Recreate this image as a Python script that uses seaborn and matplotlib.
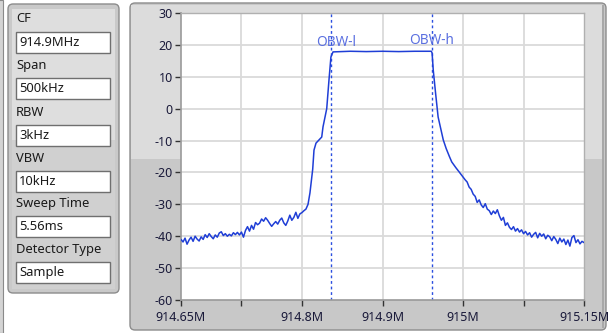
import matplotlib
matplotlib.use("Agg")
import matplotlib.pyplot as plt
from matplotlib.patches import FancyBboxPatch, Rectangle
import seaborn as sns
import pandas as pd

# ---------------- data ----------------
freq_mhz = [
    914.650, 914.6525, 914.655, 914.6575, 914.660, 914.6625, 914.665, 914.6675, 914.670, 914.6725,
    914.675, 914.6775, 914.680, 914.6825, 914.685, 914.6875, 914.690, 914.6925, 914.695, 914.6975,
    914.700, 914.7025, 914.705, 914.7075, 914.710, 914.7125, 914.715, 914.7175, 914.720, 914.7225,
    914.725, 914.7275, 914.730, 914.7325, 914.735, 914.7375, 914.740, 914.7425, 914.745, 914.7475,
    914.750, 914.7525, 914.755, 914.7575, 914.760, 914.7625, 914.765, 914.7675, 914.770, 914.7725,
    914.775, 914.7775, 914.780, 914.7825, 914.785, 914.7875, 914.790, 914.7925, 914.795, 914.7975,
    914.800, 914.8025, 914.805, 914.8076, 914.810, 914.8134, 914.815, 914.8175, 914.8246, 914.8262,
    914.8308, 914.8336, 914.836, 914.8386,
    914.860, 914.880, 914.900, 914.920, 914.940, 914.9605,
    914.9615, 914.963, 914.966, 914.969, 914.9725, 914.9754, 914.979, 914.983, 914.9859, 914.991, 914.995,
    915.000, 915.0025, 915.005, 915.0075, 915.010, 915.0125, 915.015, 915.0175, 915.020, 915.0225,
    915.025, 915.0275, 915.030, 915.0325, 915.035, 915.0375, 915.040, 915.0425, 915.045, 915.0475,
    915.050, 915.0525, 915.055, 915.0575, 915.060, 915.0625, 915.065, 915.0675, 915.070, 915.0725,
    915.075, 915.0775, 915.080, 915.0825, 915.085, 915.0875, 915.090, 915.0925, 915.095, 915.0975,
    915.100, 915.1025, 915.105, 915.1075, 915.110, 915.1125, 915.115, 915.1175, 915.120, 915.1225,
    915.125, 915.1275, 915.130, 915.1325, 915.135, 915.1375, 915.140, 915.1425, 915.145, 915.1475,
    915.150,
]
level_db = [
    -41.0, -41.8, -40.6, -42.5, -41.2, -40.3, -41.6, -40.0, -40.9, -41.5,
    -40.2, -41.0, -39.5, -40.4, -39.2, -40.1, -40.8, -39.6, -40.3, -39.0,
    -38.6, -39.8, -39.2, -40.0, -39.4, -39.9, -38.9, -39.5, -38.8, -39.6,
    -38.7, -40.3, -38.2, -37.0, -38.4, -36.6, -37.8, -35.7, -36.4, -35.9,
    -34.6, -35.3, -34.2, -35.0, -36.0, -36.9, -36.1, -35.4, -36.2, -35.0,
    -34.3, -35.8, -36.6, -35.2, -33.4, -35.0, -34.1, -32.5, -34.4, -33.0,
    -32.6, -32.0, -31.5, -30.0, -26.4, -19.0, -13.0, -10.8, -8.9, -5.7,
    0.0, 9.0, 16.2, 17.8,
    18.0, 17.9, 18.0, 17.9, 18.0, 18.0,
    17.5, 12.0, 4.5, -2.6, -6.5, -9.8, -12.5, -15.0, -16.7, -18.5, -19.8,
    -21.5, -22.3, -23.0, -24.6, -25.3, -26.8, -27.5, -29.4, -28.6, -30.2,
    -31.0, -29.8, -31.5, -32.0, -33.2, -32.1, -32.9, -31.7, -33.6, -35.0,
    -34.1, -36.6, -35.8, -37.2, -37.9, -37.0, -38.4, -37.6, -38.7, -38.0,
    -39.2, -38.5, -39.6, -38.9, -40.3, -39.4, -38.8, -40.5, -39.1, -40.0,
    -39.3, -40.8, -39.7, -40.2, -41.4, -40.1, -41.0, -42.3, -40.6, -41.8,
    -40.9, -42.6, -41.2, -43.1, -40.4, -39.8, -42.0, -41.1, -42.4, -41.6,
    -42.0,
]
obw_freqs = [914.836, 914.961]
obw_labels = ["OBW-l", "OBW-h"]

x_ticks = [914.65, 914.725, 914.8, 914.9, 915.0, 915.075, 915.15]
x_tick_labels = ["914.65M", "", "914.8M", "914.9M", "915M", "", "915.15M"]
x_grid = [914.725, 914.8, 914.9, 915.0, 915.075]
y_ticks = [30, 20, 10, 0, -10, -20, -30, -40, -50, -60]

param_names = ["CF", "Span", "RBW", "VBW", "Sweep Time", "Detector Type"]
param_values = ["914.9MHz", "500kHz", "3kHz", "10kHz", "5.56ms", "Sample"]

# ---------------- figure ----------------
sns.set_theme(style="white")
plt.rcParams["font.family"] = ["Noto Sans", "DejaVu Sans"]

W, H = 609, 333
fig = plt.figure(figsize=(W / 100, H / 100), dpi=100)
fig.patch.set_facecolor("white")

bg = fig.add_axes([0, 0, 1, 1])
bg.set_xlim(0, W)
bg.set_ylim(H, 0)
bg.axis("off")

# far left partial frame
bg.add_patch(Rectangle((-2, 0), 5, H, facecolor="#d4d4d4", edgecolor="#8a8a8a", lw=0.8))

# left parameter panel
bg.add_patch(FancyBboxPatch((8, 4), 111, 289, boxstyle="round,pad=0,rounding_size=5",
                            facecolor="#c9c9c9", edgecolor="#8c8c8c", lw=1.0))
bg.add_patch(Rectangle((12, 9), 103, 131, facecolor="#dedede", edgecolor="none"))
bg.add_patch(Rectangle((12, 140), 103, 149, facecolor="#d0d0d0", edgecolor="none"))
label_y = [19, 65, 112, 158, 204, 249]
box_y = [32, 78, 125, 171, 216, 262]
for name, val, ly, byy in zip(param_names, param_values, label_y, box_y):
    bg.text(16, ly, name, fontsize=9.3, color="#1a1a1a", va="center", ha="left")
    bg.add_patch(Rectangle((16, byy), 94, 21, facecolor="white", edgecolor="#6f6f6f", lw=1.0))
    bg.text(19, byy + 10.5, val, fontsize=9.3, color="#1a1a1a", va="center", ha="left")

# graph frame
bg.add_patch(FancyBboxPatch((130, 3), 476, 327, boxstyle="round,pad=0,rounding_size=5",
                            facecolor="#c8c8c8", edgecolor="#8c8c8c", lw=1.0))
bg.add_patch(Rectangle((131, 5), 473, 154, facecolor="#dcdcdc", edgecolor="none"))
bg.add_patch(Rectangle((602, 5), 2, 323, facecolor="#a8a8a8", edgecolor="none"))

# plot axes
x0, x1, y0, y1 = 181, 584, 13, 300
ax = fig.add_axes([x0 / W, (H - y1) / H, (x1 - x0) / W, (y1 - y0) / H])
ax.set_facecolor("white")

df = pd.DataFrame({"freq": freq_mhz, "level": level_db})
sns.lineplot(data=df, x="freq", y="level", ax=ax, color="#1f3ed6", linewidth=1.1,
             estimator=None, sort=False, zorder=3)

for gx in x_grid:
    ax.axvline(gx, color="#dadada", lw=1.3, zorder=1)
for gy in y_ticks[1:-1]:
    ax.axhline(gy, color="#dadada", lw=1.3, zorder=1)

for f, lab, dy in zip(obw_freqs, obw_labels, [20.6, 21.5]):
    ax.axvline(f, color="#2b4fe0", lw=1.0, ls=(0, (2, 2)), zorder=2)
    ax.text(f + (0.006 if lab.endswith("l") else 0.0), dy, lab, color="#5a6fe0",
            fontsize=9.8, ha="center", va="center", zorder=4)

ax.set_xlim(914.65, 915.15)
ax.set_ylim(-60, 30)
ax.set_xticks(x_ticks)
ax.set_xticklabels(x_tick_labels)
ax.set_yticks(y_ticks)
ax.set_yticklabels([str(v) for v in y_ticks])
ax.tick_params(axis="both", which="both", direction="out", length=4, width=1,
               color="#333333", labelsize=9, labelcolor="#1a1a3a", pad=2,
               bottom=True, left=True)
ax.tick_params(axis="x", pad=4)
ax.set_xlabel("")
ax.set_ylabel("")
for s in ["left", "bottom"]:
    ax.spines[s].set_color("#9a9a9a")
    ax.spines[s].set_linewidth(1.2)
for s in ["top", "right"]:
    ax.spines[s].set_color("#b0b0b0")
    ax.spines[s].set_linewidth(1.0)

fig.savefig("out.png", dpi=100, facecolor=fig.get_facecolor())
